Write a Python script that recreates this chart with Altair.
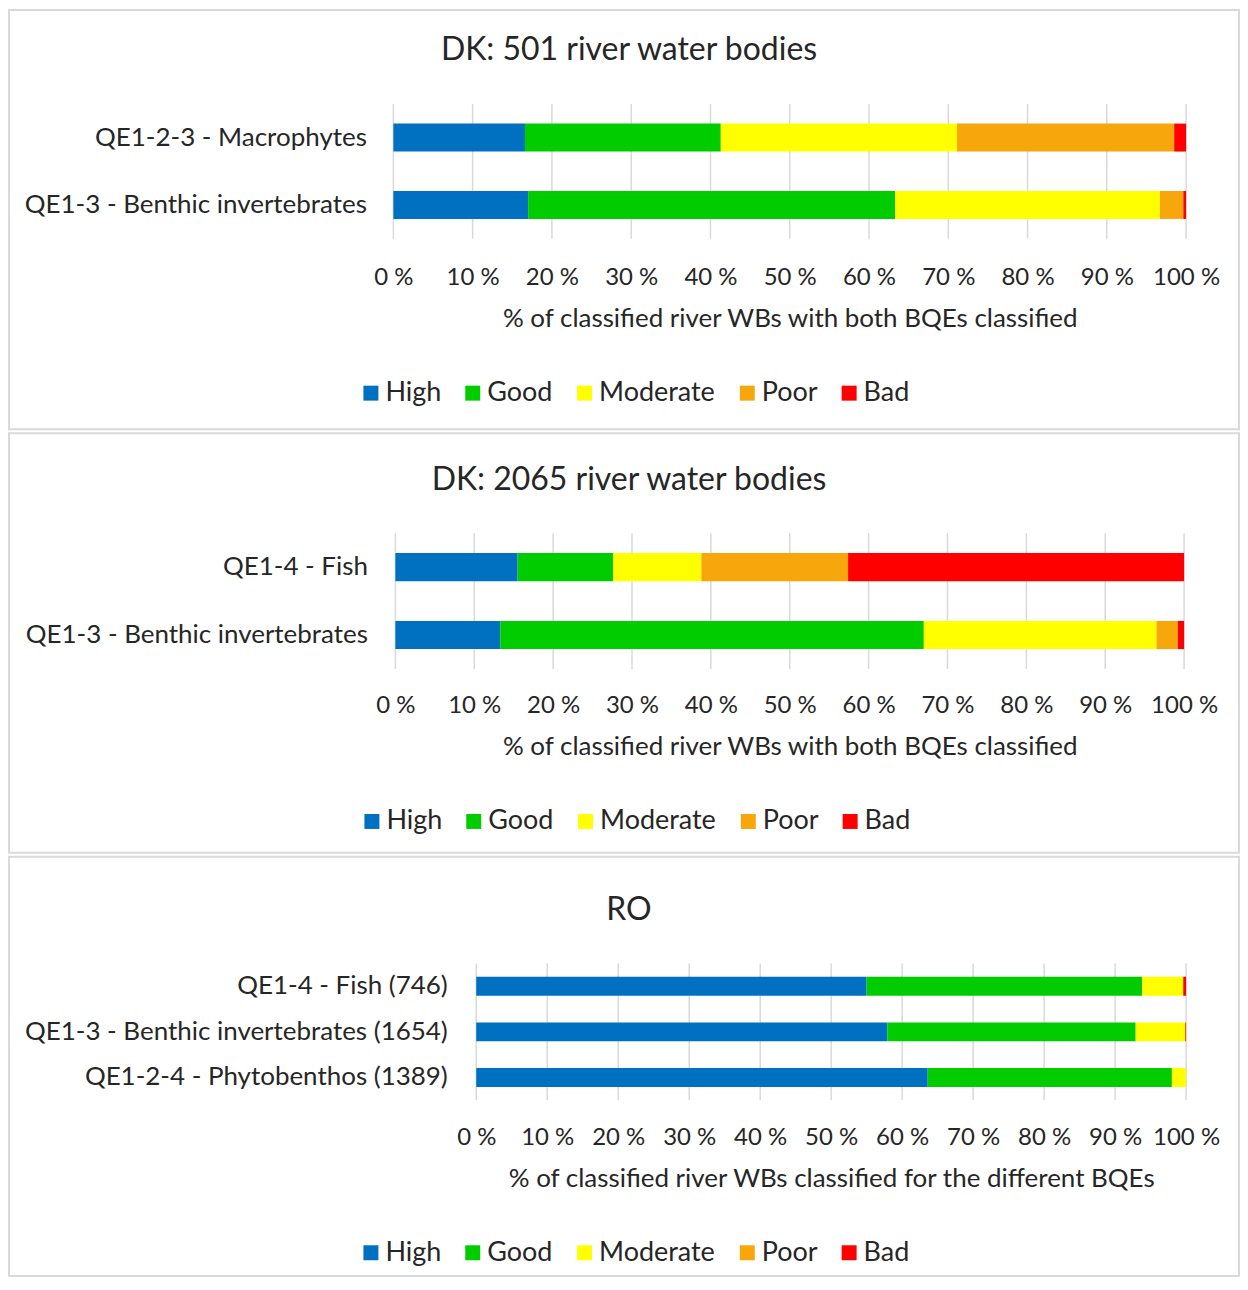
import altair as alt
import pandas as pd

CLASSES = ["High", "Good", "Moderate", "Poor", "Bad"]
COLORS = ["#0070C0", "#00CC00", "#FFFF00", "#F7A60C", "#FF0000"]
TICKS = [0, 10, 20, 30, 40, 50, 60, 70, 80, 90, 100]

# Panel 1
P1_TITLE = "DK: 501 river water bodies"
P1_CATS = ["QE1-2-3 - Macrophytes", "QE1-3 - Benthic invertebrates"]
P1_HIGH = [16.6, 17.0]
P1_GOOD = [24.7, 46.3]
P1_MODERATE = [29.8, 33.4]
P1_POOR = [27.4, 2.95]
P1_BAD = [1.5, 0.35]
P1_XTITLE = "% of classified river WBs with both BQEs classified"

# Panel 2
P2_TITLE = "DK: 2065 river water bodies"
P2_CATS = ["QE1-4 - Fish", "QE1-3 - Benthic invertebrates"]
P2_HIGH = [15.5, 13.3]
P2_GOOD = [12.1, 53.7]
P2_MODERATE = [11.2, 29.5]
P2_POOR = [18.6, 2.7]
P2_BAD = [42.6, 0.8]
P2_XTITLE = "% of classified river WBs with both BQEs classified"

# Panel 3
P3_TITLE = "RO"
P3_CATS = ["QE1-4 - Fish (746)", "QE1-3 - Benthic invertebrates (1654)", "QE1-2-4 - Phytobenthos (1389)"]
P3_HIGH = [55.0, 57.9, 63.6]
P3_GOOD = [38.8, 35.0, 34.4]
P3_MODERATE = [5.8, 7.0, 2.0]
P3_POOR = [0.0, 0.0, 0.0]
P3_BAD = [0.4, 0.1, 0.0]
P3_XTITLE = "% of classified river WBs classified for the different BQEs"

FONT = "Lato"
TXT = "#262626"
GRID = "#d9d9d9"
W, H = 1232, 420


def panel(title, cats, series, xtitle, g):
    rows = []
    for ci, cls in enumerate(CLASSES):
        for cat, v in zip(cats, series[ci]):
            rows.append({"cat": cat, "cls": cls, "ord": ci, "val": v})
    df = pd.DataFrame(rows)
    grid = pd.DataFrame({"t": TICKS, "g0": [0] * len(TICKS), "g1": [1] * len(TICKS)})

    xscale = alt.Scale(domain=[0, 100], range=[g["x0"], g["x1"]], nice=False)
    xaxis = alt.Axis(
        values=TICKS, labelExpr="datum.value + ' %'", grid=False, domain=False,
        ticks=False, tickSize=0, labelPadding=g["xlp"], labelBaseline="alphabetic",
        labelFlush=False, labelOverlap=False, offset=-(H - g["g1"]),
        labelFont=FONT, labelFontSize=24, labelColor=TXT,
        title=xtitle, titleFont=FONT, titleFontSize=26, titleFontWeight="normal",
        titleColor=TXT, titleBaseline="alphabetic", titleY=g["ty"],
    )
    rules = alt.Chart(grid).mark_rule(color=GRID, strokeWidth=1.5).encode(
        x=alt.X("t:Q", scale=xscale, axis=xaxis),
        y=alt.Y("g0:Q", scale=alt.Scale(domain=[0, 1], range=[g["g0"], g["g1"]]), axis=None),
        y2="g1:Q",
    )
    bars = alt.Chart(df).mark_bar().encode(
        x=alt.X("val:Q", stack="zero", scale=xscale, axis=xaxis),
        y=alt.Y(
            "cat:N", sort=cats,
            scale=alt.Scale(domain=cats, range=[g["g0"], g["g1"]],
                            paddingInner=g["pi"], paddingOuter=g["pi"] / 2),
            axis=alt.Axis(title=None, domain=False, ticks=False, tickSize=0, grid=False,
                          offset=-g["x0"], labelPadding=g["ylp"], labelLimit=800,
                          labelFont=FONT, labelFontSize=26, labelColor=TXT),
        ),
        color=alt.Color(
            "cls:N", scale=alt.Scale(domain=CLASSES, range=COLORS),
            legend=alt.Legend(title=None, orient="none", direction="horizontal",
                              legendX=g["lx"], legendY=g["ly"], symbolType="square",
                              symbolSize=225, symbolStrokeWidth=0, symbolOpacity=1,
                              labelFont=FONT, labelFontSize=27, labelColor=TXT,
                              labelOffset=1, columnPadding=18),
        ),
        order=alt.Order("ord:Q"),
        tooltip=["cat:N", "cls:N", "val:Q"],
    )
    return alt.layer(rules, bars).resolve_scale(y="independent").properties(
        width=W, height=H,
        title=alt.TitleParams(text=title, anchor="middle", offset=-g["tb"],
                              baseline="alphabetic", font=FONT, fontSize=32,
                              fontWeight="normal", color=TXT, dx=5),
    )


g1 = dict(x0=385, x1=1179, g0=94, g1=229, pi=0.585, ylp=27, xlp=46, ty=88,
          lx=349, ly=370, tb=82)
g2 = dict(x0=387, x1=1177, g0=100, g1=236, pi=0.585, ylp=28, xlp=44, ty=86,
          lx=350, ly=375, tb=89)
g3 = dict(x0=468, x1=1179, g0=107, g1=244, pi=0.584, ylp=29, xlp=44, ty=86,
          lx=349, ly=383, tb=95)

c1 = panel(P1_TITLE, P1_CATS, [P1_HIGH, P1_GOOD, P1_MODERATE, P1_POOR, P1_BAD], P1_XTITLE, g1)
c2 = panel(P2_TITLE, P2_CATS, [P2_HIGH, P2_GOOD, P2_MODERATE, P2_POOR, P2_BAD], P2_XTITLE, g2)
c3 = panel(P3_TITLE, P3_CATS, [P3_HIGH, P3_GOOD, P3_MODERATE, P3_POOR, P3_BAD], P3_XTITLE, g3)

chart = (
    alt.vconcat(c1, c2, c3, spacing=2)
    .resolve_scale(color="independent")
    .properties(padding=0)
    .configure_view(stroke=GRID, strokeWidth=2)
)

chart.save("out.html", embed_options={"renderer": "svg", "actions": False})
